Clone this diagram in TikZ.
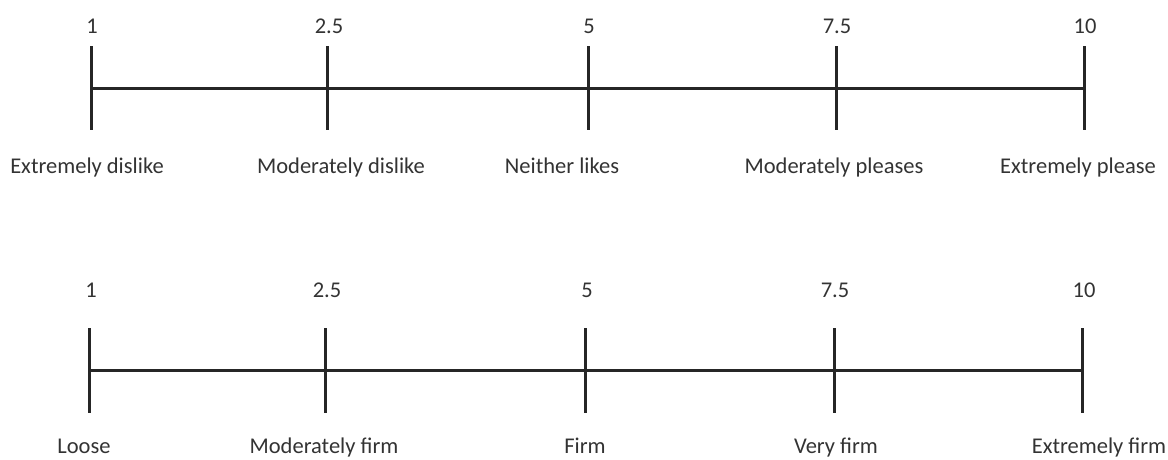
\documentclass[tikz,border=0pt]{standalone}
\usepackage{fontspec}
\setmainfont{Carlito}
\usetikzlibrary{positioning}

\begin{document}
\begin{tikzpicture}[
        x=1pt, y=-1pt,
        tick/.style={draw=black!85, line width=3pt},
        bar/.style={draw=black!85, line width=3pt},
        num/.style={anchor=base, inner sep=0pt, text=black!80, font=\fontsize{22.5}{26}\selectfont},
        lbl/.style={anchor=base, inner sep=0pt, text=black!80, font=\fontsize{22.5}{26}\selectfont}
    ]
        \useasboundingbox (0,0) rectangle (1168,459);

        % Liking scale
        \coordinate (a1) at (91,88);
        \coordinate (a2) at (327,88);
        \coordinate (a3) at (588,88);
        \coordinate (a4) at (836,88);
        \coordinate (a5) at (1084,88);
        \draw[bar] (a1) -- (a5);
        \draw[tick] ([yshift=42pt]a1) -- ([yshift=-42pt]a1);
        \draw[tick] ([yshift=42pt]a2) -- ([yshift=-42pt]a2);
        \draw[tick] ([yshift=42pt]a3) -- ([yshift=-42pt]a3);
        \draw[tick] ([yshift=42pt]a4) -- ([yshift=-42pt]a4);
        \draw[tick] ([yshift=42pt]a5) -- ([yshift=-42pt]a5);

        \node[num] (na1) at (92,33) {1};
        \node[num] (na2) at (329,33) {2.5};
        \node[num] (na3) at (589,33) {5};
        \node[num] (na4) at (837,33) {7.5};
        \node[num] (na5) at (1085,33) {10};

        \node[lbl] (la1) at (87,173) {Extremely dislike};
        \node[lbl] (la2) at (341,173) {Moderately dislike};
        \node[lbl] (la3) at (562,173) {Neither likes};
        \node[lbl] (la4) at (834,173) {Moderately pleases};
        \node[lbl] (la5) at (1078,173) {Extremely please};

        % Firmness scale
        \coordinate (b1) at (89,370);
        \coordinate (b2) at (325,370);
        \coordinate (b3) at (585,370);
        \coordinate (b4) at (834,370);
        \coordinate (b5) at (1082,370);
        \draw[bar] (b1) -- (b5);
        \draw[tick] ([yshift=42pt]b1) -- ([yshift=-43pt]b1);
        \draw[tick] ([yshift=42pt]b2) -- ([yshift=-43pt]b2);
        \draw[tick] ([yshift=42pt]b3) -- ([yshift=-43pt]b3);
        \draw[tick] ([yshift=42pt]b4) -- ([yshift=-43pt]b4);
        \draw[tick] ([yshift=42pt]b5) -- ([yshift=-43pt]b5);

        \node[num] (nb1) at (91,297) {1};
        \node[num] (nb2) at (327,297) {2.5};
        \node[num] (nb3) at (587,297) {5};
        \node[num] (nb4) at (835,297) {7.5};
        \node[num] (nb5) at (1084,297) {10};

        \node[lbl] (lb1) at (84,453) {Loose};
        \node[lbl] (lb2) at (324,453) {Moderately firm};
        \node[lbl] (lb3) at (585,453) {Firm};
        \node[lbl] (lb4) at (836,453) {Very firm};
        \node[lbl] (lb5) at (1099,453) {Extremely firm};

    \end{tikzpicture}
\end{document}
